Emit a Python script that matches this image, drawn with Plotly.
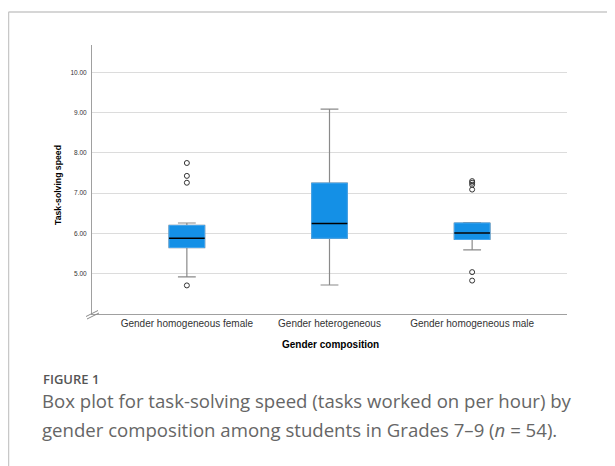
import plotly.graph_objects as go

categories = ["Gender homogeneous female", "Gender heterogeneous", "Gender homogeneous male"]
q1 = [5.65, 5.88, 5.85]
median = [5.88, 6.25, 6.01]
q3 = [6.20, 7.25, 6.26]
lower_whisker = [4.92, 4.72, 5.59]
upper_whisker = [6.26, 9.09, 6.27]
outliers = [[7.75, 7.43, 7.26, 4.71], [], [7.30, 7.26, 7.21, 7.09, 5.04, 4.83]]
y_ticks = [5, 6, 7, 8, 9, 10]

OFF = 8  # page body margin of the html page
W, H = 615 - OFF, 466 - OFF
L, R, T, B = 92 - OFF, 567 - OFF, 45 - OFF, 314 - OFF
BOX_W = 0.25


def px(x):
    return (x - OFF - L) / (R - L)


def py(y):
    return (B - (y - OFF)) / (B - T)


pos = list(range(len(categories)))
fig = go.Figure()

# whiskers (grey) + base box
fig.add_trace(go.Box(
    x=pos, q1=q1, median=median, q3=q3,
    lowerfence=lower_whisker, upperfence=upper_whisker,
    width=BOX_W, whiskerwidth=0.5, boxpoints=False,
    fillcolor="#1490e6", line=dict(color="#8a8a8a", width=1.2),
    showlegend=False, hoverinfo="skip"))

# box body with light-blue outline
fig.add_trace(go.Box(
    x=pos, q1=q1, median=median, q3=q3,
    lowerfence=q1, upperfence=q3,
    width=BOX_W, whiskerwidth=0, boxpoints=False,
    fillcolor="#1490e6", line=dict(color="#45a6ee", width=1),
    showlegend=False, hoverinfo="skip"))

# black median lines
mx, my = [], []
for i, m in zip(pos, median):
    mx += [i - BOX_W / 2, i + BOX_W / 2, None]
    my += [m, m, None]
fig.add_trace(go.Scatter(x=mx, y=my, mode="lines",
                         line=dict(color="#000000", width=1.5),
                         showlegend=False, hoverinfo="skip"))

# outliers
ox, oy = [], []
for i, vals in zip(pos, outliers):
    ox += [i] * len(vals)
    oy += vals
fig.add_trace(go.Scatter(x=ox, y=oy, mode="markers",
                         marker=dict(symbol="circle-open", size=5,
                                     color="#333333", line=dict(width=1)),
                         showlegend=False, hoverinfo="skip"))

shapes = [
    # figure frame (top and left)
    dict(type="line", xref="paper", yref="paper",
         x0=px(8.5), y0=py(12), x1=px(615), y1=py(12),
         line=dict(color="#c8c8c8", width=1.5)),
    dict(type="line", xref="paper", yref="paper",
         x0=px(8.5), y0=py(12), x1=px(8.5), y1=py(466),
         line=dict(color="#c8c8c8", width=1.5)),
    # axis break marks
    dict(type="line", xref="paper", yref="paper",
         x0=px(86), y0=py(316.5), x1=px(98), y1=py(310.5),
         line=dict(color="#8a8a8a", width=1)),
    dict(type="line", xref="paper", yref="paper",
         x0=px(87), y0=py(319), x1=px(99), y1=py(313),
         line=dict(color="#8a8a8a", width=1)),
]

annotations = [
    dict(text="<b>Task-solving speed</b>", xref="paper", yref="paper",
         x=px(58), y=py(185), textangle=-90, showarrow=False,
         xanchor="center", yanchor="middle",
         font=dict(family="Liberation Sans", size=8.7, color="#000000")),
    dict(text="<b>Gender composition</b>", xref="paper", yref="paper",
         x=px(330), y=py(344), showarrow=False,
         xanchor="center", yanchor="middle",
         font=dict(family="Liberation Sans", size=10, color="#000000")),
    dict(text="FIGURE 1", xref="paper", yref="paper",
         x=px(41), y=py(379), showarrow=False,
         xanchor="left", yanchor="middle",
         font=dict(family="Open Sans", size=13, color="#555555", weight=600)),
    dict(text="Box plot for task-solving speed (tasks worked on per hour) by",
         xref="paper", yref="paper", x=px(40), y=py(400.5), showarrow=False,
         xanchor="left", yanchor="middle",
         font=dict(family="Open Sans", size=18.6, color="#666666")),
    dict(text="gender composition among students in Grades 7\u20139 (<i>n</i> = 54).",
         xref="paper", yref="paper", x=px(40), y=py(429), showarrow=False,
         xanchor="left", yanchor="middle",
         font=dict(family="Open Sans", size=18.6, color="#666666")),
]

fig.update_layout(
    width=W, height=H,
    margin=dict(l=L, r=W - R, t=T, b=H - B),
    paper_bgcolor="white", plot_bgcolor="white",
    boxmode="overlay",
    shapes=shapes, annotations=annotations,
    xaxis=dict(range=[-0.665, 2.665], tickvals=pos, ticktext=categories,
               showgrid=False, zeroline=False, showline=True,
               linecolor="#a0a0a0", linewidth=1, ticks="",
               tickfont=dict(family="Liberation Sans", size=10, color="#333333")),
    yaxis=dict(range=[4.0, 10.68], tickvals=y_ticks, tickformat=".2f",
               showgrid=True, gridcolor="#dcdcdc", gridwidth=1,
               zeroline=False, showline=True, linecolor="#a0a0a0", linewidth=1,
               ticks="", ticklabelstandoff=3,
               tickfont=dict(family="Liberation Sans", size=6.5, color="#333333")),
)

fig.write_html("out.html")
